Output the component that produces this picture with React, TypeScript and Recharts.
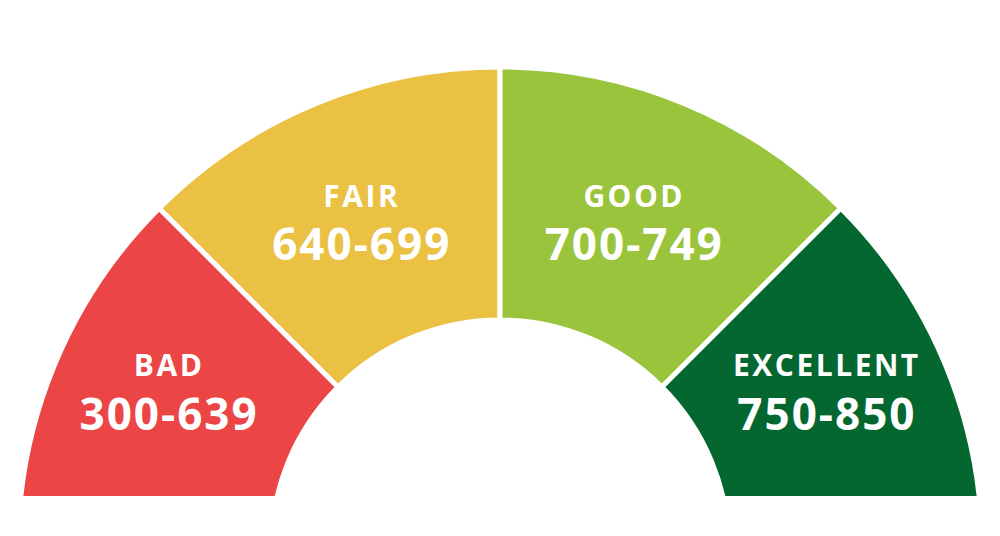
import React from "react";
import { PieChart, Pie, Cell } from "recharts";

const bands = ["BAD", "FAIR", "GOOD", "EXCELLENT"];
const ranges = ["300-639", "640-699", "700-749", "750-850"];
const weights = [1, 1, 1, 1];
const colors = ["#EB4545", "#EBC143", "#9BC43D", "#04672F"];

const data = bands.map((name, i) => ({ name, range: ranges[i], value: weights[i] }));

const RAD = Math.PI / 180;

function renderLabel(props: any) {
  const { cx, cy, midAngle, index } = props;
  const r = 356;
  const x = cx + r * Math.cos(-midAngle * RAD) - 2;
  let y = cy + r * Math.sin(-midAngle * RAD);
  // outer segments are clipped at the bottom, so their labels sit higher
  if (midAngle < 45 || midAngle > 135) y -= 23;
  const font = "'Open Sans', sans-serif";
  return (
    <g>
      <text x={x} y={y - 13.5} textAnchor="middle" fill="#fff" fontFamily={font} fontWeight={700} fontSize={30} letterSpacing={2.5}>
        {data[index].name}
      </text>
      <text x={x} y={y + 40} textAnchor="middle" fill="#fff" fontFamily={font} fontWeight={700} fontSize={44} letterSpacing={2}>
        {data[index].range}
      </text>
    </g>
  );
}

export default function App() {
  return (
    <div style={{ position: "absolute", left: 0, top: 0, width: 1000, height: 536, background: "#fff" }}>
      <div style={{ width: 1000, height: 496, overflow: "hidden" }}>
        <PieChart width={1000} height={496} margin={{ top: 0, right: 0, bottom: 0, left: 0 }}>
          <Pie
            data={data}
            dataKey="value"
            cx={500}
            cy={549}
            startAngle={180}
            endAngle={0}
            innerRadius={229}
            outerRadius={482}
            stroke="#fff"
            strokeWidth={5}
            label={renderLabel}
            labelLine={false}
            isAnimationActive={false}
          >
            {data.map((d, i) => (
              <Cell key={d.name} fill={colors[i]} />
            ))}
          </Pie>
        </PieChart>
      </div>
    </div>
  );
}
